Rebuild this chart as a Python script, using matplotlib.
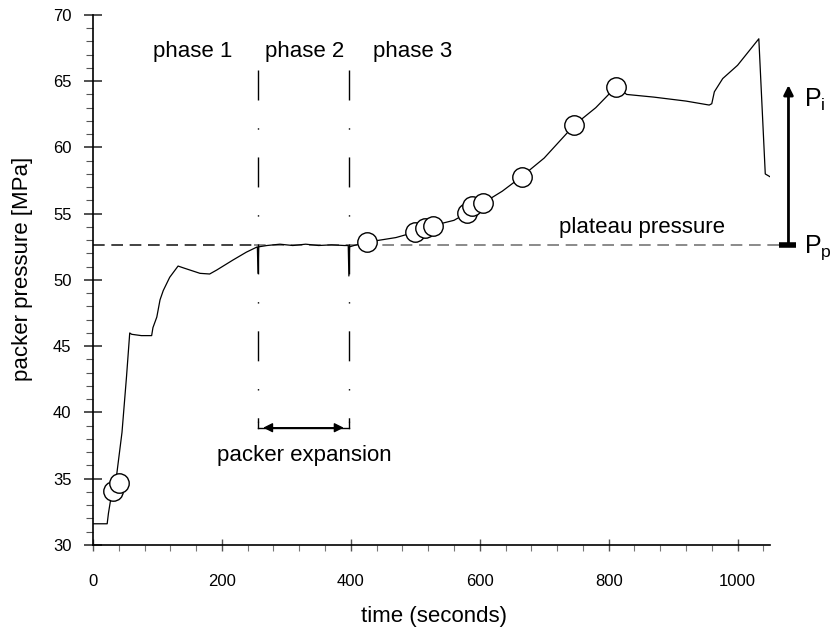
import matplotlib
matplotlib.use("Agg")
import matplotlib.pyplot as plt
from matplotlib.ticker import MultipleLocator

plt.rcParams["font.family"] = ["Liberation Sans", "DejaVu Sans"]
plt.rcParams["mathtext.fontset"] = "custom"
plt.rcParams["mathtext.rm"] = "Liberation Sans"
plt.rcParams["mathtext.it"] = "Liberation Sans"

# ── data ─────────────────────────────────────────────────────────────
time_s = [0, 22, 24, 28, 33, 37, 45, 52, 57, 60, 75, 91, 93, 99, 104, 109, 119,
          132, 141, 166, 181, 192, 217, 238, 255, 256, 257,
          270, 290, 310, 330, 350, 370, 390, 396, 397, 398, 405,
          425, 470, 499, 515, 527, 560, 580, 588, 605, 635, 665, 700, 747, 780,
          812, 828, 870, 920, 956, 960, 964, 977, 1000, 1033, 1043, 1050]
pressure = [31.6, 31.6, 32.4, 33.6, 34.5, 35.4, 38.5, 42.7, 46.0, 45.9, 45.8, 45.8,
            46.4, 47.2, 48.5, 49.2, 50.2,
            51.05, 50.9, 50.5, 50.45, 50.75, 51.5, 52.1, 52.5, 50.5, 52.5,
            52.6, 52.7, 52.6, 52.7, 52.6, 52.65, 52.6, 52.6, 50.3, 52.5, 52.6,
            52.85, 53.2, 53.6, 53.9, 54.1, 54.5, 55.05, 55.6, 55.8, 56.7, 57.8, 59.2,
            61.7, 63.0,
            64.6, 64.0, 63.8, 63.5, 63.2, 63.3, 64.2, 65.2, 66.2, 68.2, 58.0, 57.8]

# measurement points (circles)
circle_t = [31, 41, 425, 499, 515, 527, 580, 588, 605, 665, 747, 812]
circle_p = [34.1, 34.7, 52.85, 53.6, 53.9, 54.1, 55.05, 55.6, 55.8, 57.8, 61.7, 64.6]

plateau_p = 52.65
phase_bounds = [256, 397]
phase_labels = ["phase 1", "phase 2", "phase 3"]
phase_label_t = [154, 328, 496]
pi_top = 64.7

# ── figure ───────────────────────────────────────────────────────────
fig = plt.figure(figsize=(8.34, 6.28), dpi=100)
ax = fig.add_axes([0.1115, 0.1322, 0.8115, 0.8440])

ax.plot(time_s, pressure, color="black", linewidth=0.9, zorder=3)
ax.plot(circle_t, circle_p, linestyle="none", marker="o", markersize=14,
        markerfacecolor="white", markeredgecolor="black", markeredgewidth=1.0,
        zorder=4)

# plateau pressure line
ax.plot([0, 250], [plateau_p, plateau_p], color="#222222", linewidth=1.2,
        dashes=(7, 4), zorder=2)
ax.plot([250, 1085], [plateau_p, plateau_p], color="#777777", linewidth=1.2,
        dashes=(7, 4), zorder=2, clip_on=False)
ax.text(851, 53.55, "plateau pressure", fontsize=16, ha="center", va="baseline")

# phase boundaries
for tb in phase_bounds:
    ax.plot([tb, tb], [65.85, 39.3], color="black", linewidth=1.0,
            dashes=(21.6, 20, 1, 20), zorder=2)
    ax.plot([tb, tb], [38.85, 39.3], color="black", linewidth=1.0)
for lbl, tl in zip(phase_labels, phase_label_t):
    ax.text(tl, 66.8, lbl, fontsize=16, ha="center", va="baseline")

# packer expansion arrow
ax.plot(phase_bounds, [38.85, 38.85], color="black", linewidth=1.0)
ax.annotate("", xy=(phase_bounds[0] + 8, 38.85), xytext=(phase_bounds[1] - 8, 38.85),
            arrowprops=dict(arrowstyle="<|-|>", color="black", lw=1.0,
                            mutation_scale=14, shrinkA=0, shrinkB=0))
ax.text(328, 36.3, "packer expansion", fontsize=16, ha="center", va="baseline")

# P_i arrow
ax.annotate("", xy=(1079, pi_top), xytext=(1079, plateau_p),
            arrowprops=dict(arrowstyle="-|>", color="black", lw=2.0,
                            mutation_scale=14, shrinkA=0, shrinkB=0),
            annotation_clip=False)
ax.plot([1065, 1090], [plateau_p, plateau_p], color="black", linewidth=4,
        solid_capstyle="butt", clip_on=False, zorder=5)
ax.text(1103, 63.06, r"$\mathregular{P_i}$", fontsize=18, ha="left", va="baseline")
ax.text(1103, 52.04, r"$\mathregular{P_p}$", fontsize=18, ha="left", va="baseline")

# axes
ax.set_xlim(0, 1050)
ax.set_ylim(30, 70)
ax.spines["top"].set_visible(False)
ax.spines["right"].set_visible(False)
ax.spines["left"].set_linewidth(1.2)
ax.spines["bottom"].set_linewidth(1.2)
ax.xaxis.set_major_locator(MultipleLocator(200))
ax.xaxis.set_minor_locator(MultipleLocator(40))
ax.yaxis.set_major_locator(MultipleLocator(5))
ax.yaxis.set_minor_locator(MultipleLocator(1))
ax.tick_params(axis="x", which="major", direction="inout", length=8, width=1,
               color="#555555", labelsize=12, pad=17)
ax.tick_params(axis="x", which="minor", direction="out", length=4, width=0.8,
               color="#777777")
ax.tick_params(axis="y", which="major", direction="inout", length=13, width=1.2,
               color="#333333", labelsize=12, pad=9)
ax.tick_params(axis="y", which="minor", direction="out", length=5, width=0.8,
               color="#555555")

ax.set_xlabel("time (seconds)", fontsize=16)
ax.set_ylabel("packer pressure [MPa]", fontsize=16)
ax.xaxis.set_label_coords(0.504, -0.115)
ax.yaxis.set_label_coords(-0.089, 0.52)

fig.savefig("out.png", dpi=100)
